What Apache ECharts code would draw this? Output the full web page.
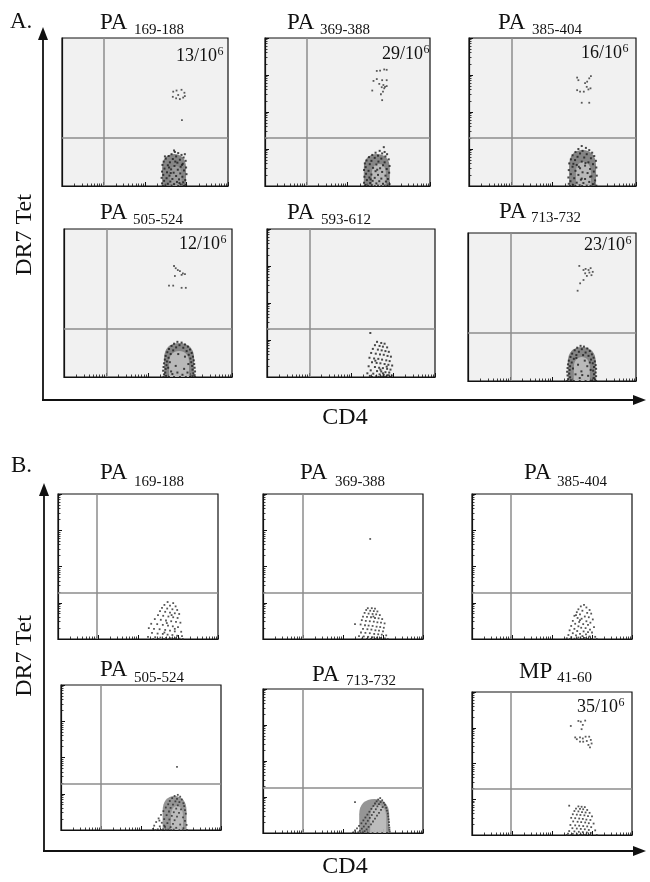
<!DOCTYPE html>
<html><head><meta charset="utf-8">
<script src="https://cdn.jsdelivr.net/npm/echarts@6/dist/echarts.min.js"></script>
<style>html,body{margin:0;padding:0;background:#fff}#c{width:650px;height:882px}</style>
</head><body><div id="c"></div>
<script>
// ---- Values (log10 fluorescence units: x = CD4, y = DR7 tetramer) ----
const panelNames = ['A1','A2','A3','A4','A5','A6','B1','B2','B3','B4','B5','B6'];
const epitopePrefix = ['PA','PA','PA','PA','PA','PA','PA','PA','PA','PA','PA','MP'];
const epitopeRange = ['169-188','369-388','385-404','505-524','593-612','713-732','169-188','369-388','385-404','505-524','713-732','41-60'];
const countNumerator = ['13','29','16','12','','23','','','','','','35'];
const countExponent = '6';
const quadX = [1.01,1.02,1.03,1.02,1.02,1.02,0.98,1.00,0.98,1.00,1.00,0.98];
const quadY = [1.30,1.30,1.30,1.30,1.30,1.30,1.27,1.27,1.27,1.27,1.27,1.29];
const decadeTicks = [0,1,2,3,4];
const blobOuterX = [2.70,2.71,2.72,2.74,null,2.71,null,null,null,2.84,2.78,null];
const blobInnerX = [2.74,2.76,2.74,2.74,null,2.71,null,null,null,2.90,2.88,null];

const A1neg = [[2.72,0.92],[2.80,0.89],[2.64,0.86],[2.88,0.84],[2.57,0.81],[2.75,0.80],[2.93,0.77],[2.50,0.74],[2.67,0.73],[2.84,0.71],[2.98,0.68],[2.45,0.66],[2.60,0.64],[2.78,0.63],[2.91,0.60],[2.42,0.57],[2.55,0.56],[2.71,0.54],[2.86,0.52],[2.99,0.50],[2.47,0.47],[2.63,0.45],[2.79,0.44],[2.94,0.42],[2.41,0.39],[2.53,0.37],[2.69,0.36],[2.85,0.34],[3.00,0.32],[2.44,0.30],[2.59,0.28],[2.75,0.27],[2.90,0.25],[2.40,0.22],[2.52,0.21],[2.66,0.19],[2.82,0.18],[2.97,0.16],[2.46,0.14],[2.61,0.12],[2.77,0.11],[2.92,0.10],[2.41,0.07],[2.55,0.06],[2.70,0.05],[2.86,0.04],[2.99,0.03],[2.49,0.01],[2.64,0.01],[2.80,0.00],[2.94,0.00],[2.43,0.00],[2.58,0.50],[2.73,0.66],[2.89,0.57],[2.48,0.80],[2.96,0.86],[2.70,0.96],[2.62,0.35],[2.83,0.08]];
const A1pos = [[2.68,2.55],[2.76,2.58],[2.88,2.60],[2.95,2.52],[2.67,2.41],[2.75,2.37],[2.84,2.35],[2.92,2.39],[2.80,2.46],[2.96,2.43],[2.89,1.78]];

const A2neg = [[2.88,1.05],[2.78,0.95],[2.90,0.92],[2.68,0.90],[2.84,0.88],[2.96,0.86],[2.60,0.84],[2.74,0.82],[2.92,0.80],[2.52,0.78],[2.66,0.76],[2.82,0.74],[3.00,0.72],[2.46,0.69],[2.58,0.68],[2.75,0.66],[2.90,0.64],[2.42,0.61],[2.54,0.59],[2.70,0.58],[2.86,0.56],[3.02,0.54],[2.44,0.51],[2.62,0.49],[2.79,0.48],[2.95,0.46],[2.40,0.43],[2.51,0.41],[2.68,0.40],[2.84,0.38],[3.01,0.36],[2.45,0.33],[2.58,0.31],[2.74,0.30],[2.92,0.28],[2.41,0.25],[2.53,0.23],[2.66,0.22],[2.82,0.20],[2.98,0.19],[2.47,0.16],[2.61,0.14],[2.77,0.13],[2.93,0.12],[2.40,0.09],[2.55,0.08],[2.70,0.07],[2.86,0.06],[3.02,0.05],[2.44,0.03],[2.59,0.02],[2.74,0.01],[2.90,0.01],[2.50,0.00],[2.66,0.00],[2.82,0.00],[2.97,0.00],[2.42,0.00],[2.72,0.44],[2.56,0.18]];
const A2pos = [[2.71,3.11],[2.79,3.12],[2.89,3.15],[2.95,3.14],[2.63,2.84],[2.71,2.89],[2.84,2.86],[2.95,2.86],[2.77,2.76],[2.87,2.73],[2.60,2.58],[2.83,2.67],[2.89,2.64],[2.86,2.55],[2.81,2.48],[2.84,2.32],[2.91,2.68],[2.95,2.70]];

const A3neg = [[2.70,1.08],[2.80,1.03],[2.62,1.00],[2.88,0.97],[2.72,0.95],[2.55,0.92],[2.95,0.90],[2.66,0.88],[2.82,0.86],[2.48,0.83],[3.00,0.81],[2.60,0.79],[2.76,0.77],[2.92,0.75],[2.44,0.72],[2.54,0.70],[3.04,0.68],[2.70,0.66],[2.86,0.64],[2.40,0.61],[2.97,0.59],[2.58,0.57],[2.78,0.55],[2.48,0.52],[3.05,0.50],[2.66,0.48],[2.90,0.46],[2.39,0.43],[2.55,0.41],[2.99,0.39],[2.72,0.37],[2.84,0.35],[2.44,0.32],[2.62,0.30],[3.06,0.28],[2.93,0.26],[2.38,0.23],[2.52,0.21],[2.78,0.19],[2.68,0.17],[3.02,0.15],[2.43,0.13],[2.88,0.11],[2.58,0.09],[2.74,0.08],[2.39,0.06],[2.97,0.05],[2.49,0.03],[2.65,0.02],[2.82,0.01],[3.05,0.01],[2.55,0.00],[2.71,0.00],[2.91,0.00],[2.42,0.00],[2.79,0.62],[2.63,0.52],[2.90,0.25],[2.50,0.60],[2.70,0.20]];
const A3pos = [[2.92,2.97],[2.88,2.91],[2.83,2.82],[2.59,2.93],[2.62,2.86],[2.78,2.78],[2.82,2.68],[2.86,2.61],[2.91,2.64],[2.59,2.59],[2.66,2.55],[2.75,2.55],[2.70,2.25],[2.88,2.25]];

const A4neg = [[2.70,0.95],[2.80,0.93],[2.62,0.90],[2.88,0.88],[2.75,0.86],[2.56,0.84],[2.95,0.82],[2.67,0.80],[2.84,0.79],[2.50,0.76],[3.00,0.74],[2.60,0.72],[2.92,0.70],[2.46,0.67],[3.04,0.65],[2.54,0.62],[2.97,0.60],[2.42,0.57],[3.07,0.55],[2.49,0.52],[3.01,0.50],[2.40,0.47],[3.09,0.45],[2.45,0.42],[3.03,0.40],[2.38,0.37],[3.10,0.35],[2.44,0.32],[3.05,0.30],[2.37,0.27],[3.11,0.25],[2.42,0.22],[3.06,0.20],[2.36,0.17],[3.12,0.15],[2.41,0.12],[3.08,0.10],[2.38,0.07],[3.11,0.05],[2.43,0.03],[3.06,0.02],[2.37,0.00],[3.12,0.00],[2.50,0.00],[2.62,0.00],[2.76,0.00],[2.90,0.00],[3.00,0.00],[2.55,0.15],[2.66,0.30],[2.86,0.22],[2.96,0.35],[2.52,0.40],[2.72,0.62],[2.88,0.55],[2.58,0.08],[2.82,0.06],[2.70,0.12],[2.94,0.12],[2.48,0.25]];
const A4pos = [[2.62,3.00],[2.66,2.94],[2.71,2.89],[2.76,2.86],[2.83,2.80],[2.88,2.78],[2.64,2.73],[2.80,2.76],[2.50,2.47],[2.60,2.47],[2.80,2.41],[2.90,2.41]];

const A5neg = [[2.46,1.19],[2.62,0.95],[2.72,0.92],[2.80,0.90],[2.57,0.86],[2.68,0.84],[2.76,0.82],[2.86,0.80],[2.52,0.76],[2.64,0.74],[2.73,0.72],[2.82,0.70],[2.90,0.68],[2.48,0.65],[2.59,0.63],[2.69,0.61],[2.78,0.60],[2.87,0.57],[2.95,0.55],[2.44,0.52],[2.55,0.50],[2.65,0.49],[2.74,0.47],[2.84,0.45],[2.92,0.43],[2.50,0.40],[2.61,0.38],[2.70,0.37],[2.80,0.35],[2.89,0.33],[2.98,0.31],[2.42,0.29],[2.57,0.27],[2.67,0.25],[2.76,0.24],[2.86,0.22],[2.94,0.20],[2.47,0.18],[2.62,0.16],[2.72,0.15],[2.82,0.13],[2.91,0.12],[2.39,0.10],[2.53,0.09],[2.68,0.07],[2.78,0.06],[2.88,0.05],[2.97,0.04],[2.45,0.03],[2.60,0.02],[2.74,0.01],[2.84,0.01],[2.93,0.00],[2.50,0.00],[2.66,0.00],[2.80,0.00],[2.70,0.20],[2.58,0.44],[2.85,0.28],[2.76,0.10]];
const A5pos = [];

const A6neg = [[2.68,0.95],[2.76,0.93],[2.60,0.90],[2.84,0.88],[2.71,0.86],[2.54,0.83],[2.90,0.81],[2.64,0.79],[2.80,0.77],[2.48,0.74],[2.95,0.72],[2.58,0.70],[2.87,0.68],[2.44,0.65],[2.99,0.63],[2.52,0.60],[2.93,0.58],[2.40,0.55],[3.02,0.53],[2.47,0.50],[2.97,0.48],[2.38,0.45],[3.04,0.43],[2.43,0.40],[3.00,0.38],[2.37,0.35],[3.05,0.33],[2.42,0.30],[2.98,0.28],[2.36,0.25],[3.04,0.23],[2.41,0.20],[3.00,0.18],[2.37,0.15],[3.05,0.13],[2.43,0.10],[2.99,0.08],[2.38,0.05],[3.03,0.04],[2.45,0.02],[2.96,0.01],[2.36,0.00],[2.52,0.00],[2.66,0.00],[2.80,0.00],[2.92,0.00],[3.05,0.00],[2.56,0.18],[2.70,0.26],[2.86,0.14],[2.62,0.44],[2.78,0.55],[2.92,0.30],[2.50,0.34],[2.74,0.70],[2.66,0.08],[2.84,0.40],[2.58,0.62],[2.90,0.50],[2.72,0.16]];
const A6pos = [[2.65,3.11],[2.75,3.00],[2.80,3.03],[2.87,3.00],[2.92,3.05],[2.97,2.95],[2.79,2.91],[2.89,2.93],[2.94,2.86],[2.83,2.84],[2.75,2.73],[2.67,2.64],[2.61,2.44]];

const B1neg = [[2.74,1.02],[2.88,0.99],[2.66,0.94],[2.80,0.92],[2.94,0.90],[2.60,0.86],[2.73,0.84],[2.86,0.82],[2.98,0.80],[2.55,0.77],[2.68,0.75],[2.80,0.73],[2.92,0.71],[3.03,0.69],[2.50,0.66],[2.63,0.64],[2.76,0.62],[2.88,0.60],[2.99,0.58],[2.42,0.55],[2.57,0.53],[2.70,0.51],[2.83,0.49],[2.95,0.47],[3.06,0.45],[2.33,0.42],[2.48,0.41],[2.62,0.39],[2.75,0.37],[2.87,0.35],[3.00,0.33],[2.27,0.30],[2.40,0.28],[2.54,0.27],[2.68,0.25],[2.80,0.23],[2.92,0.21],[3.08,0.20],[2.35,0.17],[2.49,0.15],[2.62,0.14],[2.74,0.12],[2.86,0.11],[2.98,0.09],[3.10,0.08],[2.25,0.06],[2.43,0.05],[2.56,0.04],[2.70,0.03],[2.82,0.02],[2.94,0.02],[3.04,0.01],[2.38,0.00],[2.52,0.00],[2.65,0.00],[2.78,0.00],[2.90,0.00],[3.12,0.00],[2.72,0.44],[2.84,0.66],[2.66,0.18],[2.92,0.28]];
const B1pos = [];

const B2neg = [[2.30,0.41],[2.62,0.85],[2.72,0.85],[2.80,0.84],[2.58,0.80],[2.68,0.78],[2.77,0.77],[2.86,0.76],[2.54,0.72],[2.64,0.70],[2.74,0.69],[2.83,0.68],[2.92,0.66],[2.50,0.62],[2.60,0.61],[2.70,0.60],[2.80,0.58],[2.89,0.57],[2.98,0.55],[2.47,0.52],[2.57,0.50],[2.67,0.49],[2.77,0.48],[2.86,0.46],[2.95,0.45],[3.04,0.43],[2.44,0.40],[2.55,0.38],[2.64,0.37],[2.74,0.36],[2.84,0.34],[2.93,0.33],[3.02,0.31],[2.50,0.28],[2.61,0.27],[2.71,0.26],[2.81,0.24],[2.90,0.23],[3.00,0.21],[2.45,0.18],[2.56,0.17],[2.67,0.16],[2.78,0.14],[2.88,0.13],[2.97,0.12],[3.08,0.10],[2.40,0.08],[2.52,0.07],[2.63,0.06],[2.74,0.05],[2.85,0.04],[2.95,0.03],[3.05,0.02],[2.48,0.01],[2.60,0.00],[2.70,0.00],[2.82,0.00],[2.92,0.00],[3.12,0.00],[2.76,0.62]];
const B2pos = [[2.68,2.76]];

const B3neg = [[2.80,0.94],[2.72,0.90],[2.86,0.87],[2.66,0.82],[2.94,0.80],[2.76,0.78],[2.62,0.74],[2.88,0.72],[2.98,0.70],[2.70,0.68],[2.56,0.64],[2.82,0.62],[2.92,0.60],[2.64,0.58],[2.74,0.56],[3.02,0.54],[2.52,0.50],[2.86,0.49],[2.68,0.47],[2.96,0.45],[2.58,0.42],[2.78,0.41],[2.90,0.39],[2.48,0.36],[2.66,0.35],[3.05,0.33],[2.73,0.31],[2.84,0.30],[2.56,0.28],[2.95,0.26],[2.44,0.24],[2.63,0.22],[2.79,0.21],[2.90,0.19],[3.00,0.18],[2.52,0.16],[2.70,0.14],[2.85,0.13],[2.41,0.11],[2.60,0.10],[2.76,0.08],[2.94,0.07],[3.08,0.06],[2.48,0.05],[2.66,0.04],[2.82,0.03],[2.37,0.02],[2.56,0.01],[2.72,0.01],[2.88,0.00],[3.00,0.00],[3.12,0.00],[2.45,0.00],[2.62,0.00],[2.78,0.00],[2.70,0.52],[2.60,0.66]];
const B3pos = [];

const B4neg = [[2.92,0.97],[2.84,0.94],[2.98,0.92],[2.78,0.88],[2.90,0.86],[3.02,0.84],[2.72,0.80],[2.86,0.79],[2.96,0.77],[3.06,0.74],[2.68,0.71],[2.80,0.70],[2.92,0.68],[3.08,0.66],[2.62,0.62],[2.74,0.61],[2.88,0.59],[3.00,0.57],[3.10,0.55],[2.56,0.52],[2.70,0.51],[2.82,0.49],[2.95,0.47],[3.12,0.45],[2.50,0.42],[2.64,0.41],[2.77,0.39],[2.90,0.37],[3.05,0.35],[2.44,0.32],[2.58,0.30],[2.71,0.29],[2.84,0.27],[3.10,0.25],[2.38,0.22],[2.52,0.20],[2.66,0.19],[2.80,0.17],[2.98,0.15],[3.14,0.14],[2.33,0.12],[2.47,0.10],[2.60,0.09],[2.74,0.08],[2.88,0.06],[3.06,0.05],[2.30,0.03],[2.42,0.02],[2.55,0.02],[2.68,0.01],[2.82,0.01],[2.96,0.00],[3.15,0.00],[2.36,0.00],[2.50,0.00],[2.62,0.00],[2.76,0.00],[3.04,0.00],[2.46,0.26],[2.58,0.12]];
const B4pos = [[2.90,1.74]];

const B5neg = [[2.30,0.86],[2.93,0.97],[2.88,0.93],[2.98,0.91],[2.84,0.88],[2.94,0.86],[3.02,0.84],[2.80,0.82],[2.90,0.80],[3.05,0.78],[2.76,0.75],[2.86,0.74],[2.99,0.72],[3.08,0.70],[2.71,0.67],[2.82,0.66],[2.95,0.64],[3.10,0.62],[2.66,0.59],[2.77,0.58],[2.90,0.56],[3.12,0.54],[2.61,0.51],[2.72,0.50],[2.85,0.48],[3.13,0.46],[2.56,0.43],[2.67,0.42],[2.80,0.40],[3.14,0.38],[2.51,0.35],[2.62,0.34],[2.75,0.32],[3.15,0.30],[2.46,0.27],[2.57,0.26],[2.70,0.24],[3.15,0.22],[2.40,0.20],[2.52,0.18],[2.64,0.17],[3.16,0.15],[2.35,0.13],[2.47,0.12],[2.59,0.10],[3.16,0.09],[2.30,0.07],[2.42,0.06],[2.54,0.05],[3.17,0.04],[2.26,0.02],[2.38,0.02],[2.50,0.01],[2.62,0.00],[2.74,0.00],[2.86,0.00],[2.98,0.00],[3.10,0.00],[2.25,0.00],[2.44,0.00]];
const B5pos = [];

const B6neg = [[2.43,0.82],[2.66,0.80],[2.74,0.79],[2.82,0.78],[2.60,0.74],[2.70,0.73],[2.78,0.72],[2.88,0.70],[2.56,0.67],[2.66,0.66],[2.75,0.64],[2.84,0.63],[2.94,0.62],[2.52,0.58],[2.62,0.57],[2.71,0.56],[2.81,0.55],[2.90,0.53],[3.00,0.52],[2.48,0.48],[2.58,0.47],[2.68,0.46],[2.77,0.45],[2.86,0.43],[2.96,0.42],[2.53,0.38],[2.64,0.37],[2.73,0.36],[2.83,0.35],[2.92,0.33],[3.04,0.32],[2.46,0.28],[2.58,0.27],[2.68,0.26],[2.78,0.25],[2.88,0.24],[2.98,0.22],[2.51,0.19],[2.62,0.18],[2.72,0.17],[2.82,0.16],[2.92,0.14],[3.08,0.13],[2.43,0.11],[2.56,0.10],[2.67,0.09],[2.77,0.08],[2.87,0.07],[2.97,0.06],[2.40,0.04],[2.52,0.03],[2.63,0.02],[2.74,0.01],[2.85,0.01],[2.95,0.00],[3.12,0.00],[2.48,0.00],[2.70,0.00],[2.80,0.00],[2.37,0.00]];
const B6pos = [[2.47,3.05],[2.66,3.19],[2.72,3.17],[2.83,3.20],[2.77,3.08],[2.74,2.96],[2.58,2.73],[2.62,2.68],[2.70,2.73],[2.77,2.70],[2.84,2.75],[2.93,2.75],[2.78,2.61],[2.87,2.63],[2.97,2.66],[2.91,2.52],[2.95,2.45],[2.70,2.61],[2.99,2.56]];

const tetNeg = [A1neg,A2neg,A3neg,A4neg,A5neg,A6neg,B1neg,B2neg,B3neg,B4neg,B5neg,B6neg];
const tetPos = [A1pos,A2pos,A3pos,A4pos,A5pos,A6pos,B1pos,B2pos,B3pos,B4pos,B5pos,B6pos];

// ---- Layout / style ----
const FONT = '"Liberation Serif","Times New Roman",serif';
const GA = '#f1f1f1', GB = '#ffffff';
const layout = [
 {g:[62,38,166,148],  bg:GA, yt:false, t:[100,22.5,134,30],  c:[217,56],  bo:[24,32], bi:[12,20]},
 {g:[265,38,165,148], bg:GA, yt:true,  t:[287,22.5,320,30],  c:[423,54],  bo:[26,32], bi:[14,22]},
 {g:[469,38,167,148], bg:GA, yt:true,  t:[498,22.5,532,30],  c:[622,53],  bo:[27,36], bi:[15,24]},
 {g:[64,229,168,148], bg:GA, yt:false, t:[100,212.5,133,220],c:[220,244], bo:[30,34], bi:[20,26]},
 {g:[267,229,168,148],bg:GA, yt:true,  t:[287,212.5,321,220],c:null},
 {g:[468,233,168,148],bg:GA, yt:false, t:[499,211.5,531,218.5],c:[625,245], bo:[28,34], bi:[16,24]},
 {g:[58,494,160,145], bg:GB, yt:true,  t:[100,473,134,482],  c:null},
 {g:[263,494,160,145],bg:GB, yt:true,  t:[300,473,335,482],  c:null},
 {g:[472,494,160,145],bg:GB, yt:true,  t:[524,473,557,482],  c:null},
 {g:[61,685,160,145], bg:GB, yt:true,  t:[100,670,134,678],  c:null, bo:[24,34], bi:[12,24]},
 {g:[263,689,160,144],bg:GB, yt:true,  t:[312,675,346,681],  c:null, bo:[30,34], bi:[16,28]},
 {g:[472,692,160,143],bg:GB, yt:true,  t:[519,671.5,557,678],c:[618,707]}
];
const DOME = 'path://M0,20 L0,9 C0,3 4,0 10,0 C16,0 20,3 20,9 L20,20 Z';

const minorTicks = [];
for (let d = 0; d < 4; d++) for (let k = 2; k < 10; k++) minorTicks.push(+(d + Math.log10(k)).toFixed(4));

const grid = [], xAxis = [], yAxis = [], series = [], graphic = [];
function axisPair(arr, i, pos, showTicks) {
  arr.push({gridIndex:i, type:'value', min:0, max:4, interval:1, position:pos,
    axisLine:{show:true, onZero:false, lineStyle:{color:'#111', width:1.2}},
    axisTick:{show:showTicks, inside:true, length:4, customValues:decadeTicks, lineStyle:{color:'#111', width:1}},
    axisLabel:{show:false}, splitLine:{show:false}});
  arr.push({gridIndex:i, type:'value', min:0, max:4, position:pos,
    axisLine:{show:false},
    axisTick:{show:showTicks, inside:true, length:2.5, customValues:minorTicks, lineStyle:{color:'#111', width:0.8}},
    axisLabel:{show:false}, splitLine:{show:false}});
}
function txt(x, y, text, size, align, extra) {
  graphic.push(Object.assign({type:'text', x:x, y:y, silent:true,
    style:{text:text, fontSize:size, fontFamily:FONT, fill:'#111', align:align || 'left', verticalAlign:'middle'}}, extra || {}));
}

layout.forEach((L, i) => {
  grid.push({left:L.g[0], top:L.g[1], width:L.g[2], height:L.g[3], show:true,
    backgroundColor:L.bg, borderColor:'#111', borderWidth:1.2});
  axisPair(xAxis, i, 'bottom', true);
  axisPair(yAxis, i, 'left', L.yt);
  const xi = 2*i, yi = 2*i;
  if (blobOuterX[i] != null) {
    series.push({type:'scatter', xAxisIndex:xi, yAxisIndex:yi, silent:true, clip:false, z:2,
      symbol:DOME, symbolSize:L.bo, symbolOffset:[0,'-50%'],
      itemStyle:{color: i < 6 ? '#6a6a6a' : '#7a7a7a'}, data:[[blobOuterX[i], 0]]});
    series.push({type:'scatter', xAxisIndex:xi, yAxisIndex:yi, silent:true, clip:false, z:3,
      symbol:DOME, symbolSize:L.bi, symbolOffset:[0,'-50%'],
      itemStyle:{color: i === 0 ? '#a0a0a0' : '#c6c6c6'}, data:[[blobInnerX[i], 0]]});
  }
  series.push({type:'scatter', xAxisIndex:xi, yAxisIndex:yi, silent:true, clip:false, z:4,
    symbol:'rect', symbolSize: i < 6 ? 2 : 1.8, itemStyle:{color: i < 6 ? '#1c1c1c' : '#2a2a2a'},
    data:tetNeg[i],
    markLine:{silent:true, symbol:['none','none'], label:{show:false}, animation:false,
      lineStyle:{color:'#8c8c8c', width:1.5, type:'solid'},
      data:[{xAxis:quadX[i]}, {yAxis:quadY[i]}]}});
  if (tetPos[i].length) {
    series.push({type:'scatter', xAxisIndex:xi, yAxisIndex:yi, silent:true, clip:false, z:4,
      symbol:'rect', symbolSize:1.8, itemStyle:{color:'#333'}, data:tetPos[i]});
  }
  txt(L.t[0], L.t[1], epitopePrefix[i], 23, 'left');
  txt(L.t[2], L.t[3], epitopeRange[i], 15, 'left');
  if (L.c && countNumerator[i]) {
    txt(L.c[0], L.c[1], countNumerator[i] + '/10', 18, 'right');
    txt(L.c[0] + 0.5, L.c[1] - 4, countExponent, 12, 'left');
  }
});

function arrowUp(x, yTop, yBottom) {
  graphic.push({type:'line', silent:true, shape:{x1:x, y1:yBottom, x2:x, y2:yTop + 8}, style:{stroke:'#111', lineWidth:1.8}});
  graphic.push({type:'polygon', silent:true, shape:{points:[[x, yTop],[x-5, yTop+13],[x+5, yTop+13]]}, style:{fill:'#111'}});
}
function arrowRight(y, xLeft, xRight) {
  graphic.push({type:'line', silent:true, shape:{x1:xLeft, y1:y, x2:xRight - 8, y2:y}, style:{stroke:'#111', lineWidth:1.8}});
  graphic.push({type:'polygon', silent:true, shape:{points:[[xRight, y],[xRight-13, y-5],[xRight-13, y+5]]}, style:{fill:'#111'}});
}
arrowUp(43, 27, 400); arrowRight(400, 42, 646);
arrowUp(44, 483, 851); arrowRight(851, 43, 646);
txt(10, 22, 'A.', 23, 'left');
txt(11, 466, 'B.', 23, 'left');
txt(25, 235, 'DR7 Tet', 24, 'center', {rotation: Math.PI/2});
txt(25, 656, 'DR7 Tet', 24, 'center', {rotation: Math.PI/2});
txt(345, 418, 'CD4', 24, 'center');
txt(345, 867, 'CD4', 24, 'center');

const chart = echarts.init(document.getElementById('c'));
chart.setOption({animation:false, backgroundColor:'#fff', grid, xAxis, yAxis, series, graphic:{elements:graphic}});
</script>
</body></html>
